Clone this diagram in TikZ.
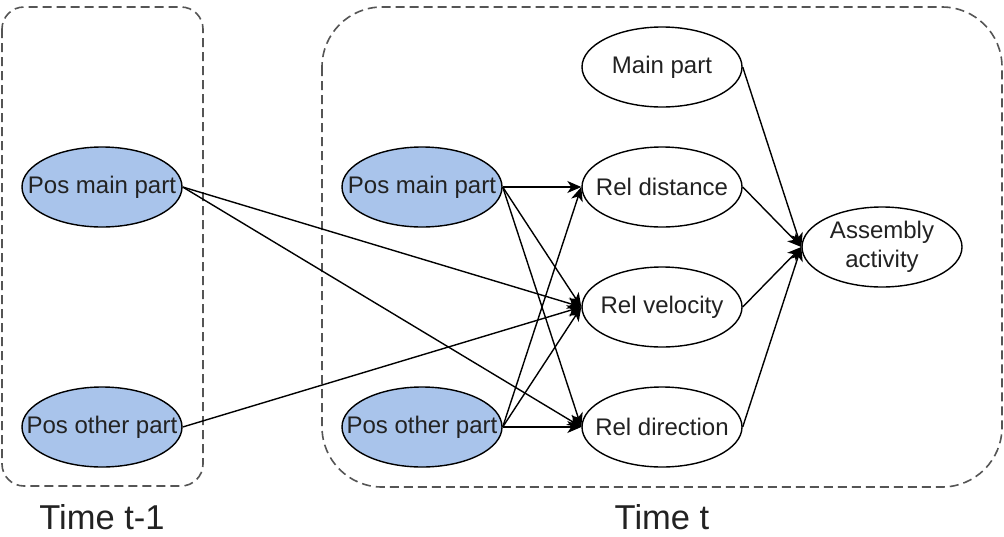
\documentclass[tikz,border=0pt]{standalone}
\usepackage{fontspec}
\setmainfont{Liberation Sans}
\usetikzlibrary{arrows.meta,shapes.geometric}
\definecolor{posfill}{HTML}{A9C4EB}
\definecolor{txt}{HTML}{222222}
\definecolor{frame}{HTML}{555555}
\begin{document}
\begin{tikzpicture}[x=1pt,y=-1pt,
  ell/.style={ellipse, draw=black, line width=1.4pt, minimum width=160pt, minimum height=80pt,
    inner sep=0pt},
  posnode/.style={ell, fill=posfill},
  varnode/.style={ell, fill=white},
  caption/.style={text=txt, font=\fontsize{24}{29}\selectfont, align=center, inner sep=0pt},
  grp/.style={draw=frame, line width=1.6pt, dash pattern=on 9pt off 5pt},
  lbl/.style={text=txt, font=\fontsize{34.5}{40}\selectfont},
  arr/.style={line width=1.4pt, -{Stealth[length=14pt,width=12pt,inset=4pt]}}]
\useasboundingbox (0,0) rectangle (1004,536);

% time slices
\draw[grp, rounded corners=22pt] (2,7) rectangle (203,486);
\draw[grp, rounded corners=60pt] (322,7) rectangle (1002,487);
\node[lbl] (tprev) at (102,517) {Time t-1};
\node[lbl] (tnow) at (662,517) {Time t};

% time t-1
\node[posnode, label={[caption]center:Pos main part}] (pm0) at (102,187) {};
\node[posnode, label={[caption]center:Pos other part}] (po0) at (102,427) {};

% time t
\node[posnode, label={[caption]center:Pos main part}] (pm1) at (422,187) {};
\node[posnode, label={[caption]center:Pos other part}] (po1) at (422,427) {};
\node[varnode, label={[caption]center:Main part}] (main) at (662,67) {};
\node[varnode, label={[caption]center:Rel distance}] (dist) at (662,187) {};
\node[varnode, label={[caption]center:Rel velocity}] (vel) at (662,307) {};
\node[varnode, label={[caption]center:Rel direction}] (dir) at (662,427) {};
\node[varnode, label={[caption]center:Assembly\\activity}] (act) at (882,247) {};

% dependencies
\draw[arr] (pm0.east) -- (vel.west);
\draw[arr] (pm0.east) -- (dir.west);
\draw[arr] (po0.east) -- (vel.west);
\foreach \s in {pm1,po1}{
  \draw[arr] (\s.east) -- (dist.west);
  \draw[arr] (\s.east) -- (vel.west);
  \draw[arr] (\s.east) -- (dir.west);
}
\foreach \s in {main,dist,vel,dir}{
  \draw[arr] (\s.east) -- (act.west);
}
\end{tikzpicture}
\end{document}
